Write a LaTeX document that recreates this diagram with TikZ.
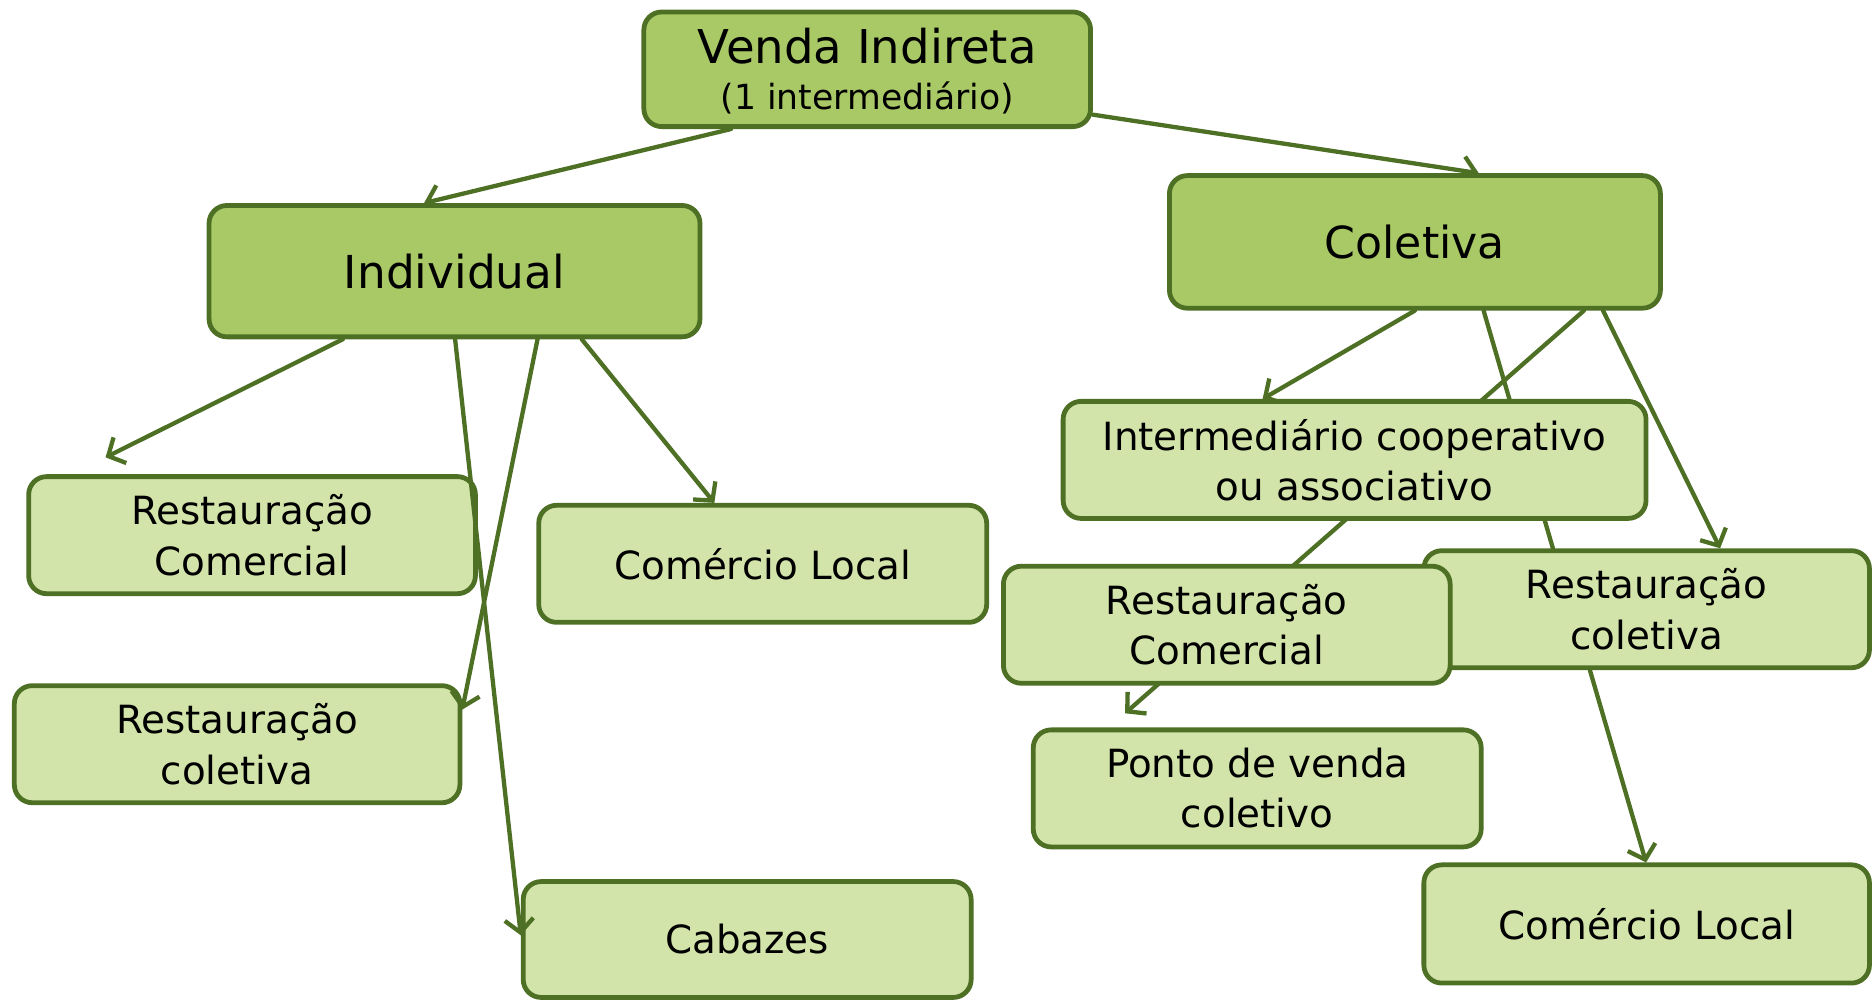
\documentclass[tikz,border=0pt]{standalone}
\usepackage{fontspec}
\setmainfont{DejaVu Sans}
\usetikzlibrary{arrows.meta}
\definecolor{lineg}{RGB}{78,112,36}
\definecolor{darkg}{RGB}{169,200,102}
\definecolor{lightg}{RGB}{210,228,169}
\pgfdeclarelayer{bg}
\pgfsetlayers{bg,main}
\tikzset{
  box/.style={draw=lineg, line width=4pt, rounded corners=15pt, align=center,
    inner sep=0pt, font=\fontsize{32.5}{42}\selectfont},
  mainbox/.style={box, fill=darkg},
  leafbox/.style={box, fill=lightg},
  conn/.style={draw=lineg, line width=3.6pt, line cap=round},
  arr/.style={conn, -{Straight Barb[length=11pt,width=24pt,line width=3.6pt]}}
}
\begin{document}
\begin{tikzpicture}[x=1pt,y=-1pt]
\useasboundingbox (0,0) rectangle (1568,839);
% main nodes
\node[mainbox, minimum width=374pt, minimum height=96pt] (venda) at (726,58)
  {\raisebox{-12pt}[0pt][0pt]{\begin{tabular}{@{}c@{}}{\fontsize{39}{42}\selectfont Venda Indireta}\\[-4pt]{\fontsize{29}{34}\selectfont (1 intermediário)}\end{tabular}}};
\node[mainbox, minimum width=411pt, minimum height=110pt, font=\fontsize{38}{42}\selectfont] (indiv) at (380.5,227) {Individual};
\node[mainbox, minimum width=411pt, minimum height=111pt, font=\fontsize{37}{42}\selectfont] (colet) at (1184.5,202.5) {Coletiva};
% left leaves
\node[leafbox, minimum width=374pt, minimum height=98pt] (rcL) at (211,448) {Restauração\\Comercial};
\node[leafbox, minimum width=375pt, minimum height=98pt] (clL) at (638.5,472) {Comércio Local};
\node[leafbox, minimum width=373pt, minimum height=98pt] (rcolL) at (198.5,623) {Restauração\\coletiva};
\node[leafbox, minimum width=375pt, minimum height=97pt] (cab) at (625.5,786.5) {Cabazes};
% right leaves
\node[leafbox, minimum width=488pt, minimum height=98pt] (inter) at (1134,385) {Intermediário cooperativo\\ou associativo};
\node[leafbox, minimum width=373pt, minimum height=98pt] (rcolR) at (1378.5,510) {Restauração\\coletiva};
\node[leafbox, minimum width=374pt, minimum height=98pt] (rcR) at (1027,523) {Restauração\\Comercial};
\node[leafbox, minimum width=375pt, minimum height=98pt] (ponto) at (1052.5,660) {Ponto de venda\\coletivo};
\node[leafbox, minimum width=373pt, minimum height=99pt] (clR) at (1378.5,773.5) {Comércio Local};
% connectors behind boxes (right side)
\begin{pgfonlayer}{bg}
\draw[arr] ([xshift=-114pt]venda.south) -- ([xshift=-25.5pt]indiv.north);
\draw[arr] ([yshift=12pt]venda.south east) -- ([xshift=53.5pt]colet.north);
\draw[arr] (colet.south) -- ([xshift=-77pt]inter.north);
\draw[conn] ([xshift=57.5pt]colet.south) -- ([xshift=-78.5pt]rcolR.north);
\draw[arr, shorten >=18pt] ([xshift=141.5pt]colet.south) -- ([xshift=-124.2pt]ponto.north);
\draw[arr] ([xshift=157.5pt]colet.south) -- ([xshift=61.5pt]rcolR.north);
\draw[arr] ([xshift=-47.5pt]rcolR.south) -- ([xshift=-0.5pt]clR.north);
\end{pgfonlayer}
% connectors on top (left side)
\draw[arr, shorten >=31.7pt] ([xshift=-93.5pt]indiv.south) -- ([xshift=-151pt]rcL.north);
\draw[arr] ([xshift=0.5pt]indiv.south) -- ([yshift=3.5pt]cab.west);
\draw[arr] ([xshift=69.5pt]indiv.south) -- ([yshift=29pt]rcolL.east);
\draw[arr] ([xshift=106.5pt]indiv.south) -- ([xshift=-40.5pt]clL.north);
\end{tikzpicture}
\end{document}
